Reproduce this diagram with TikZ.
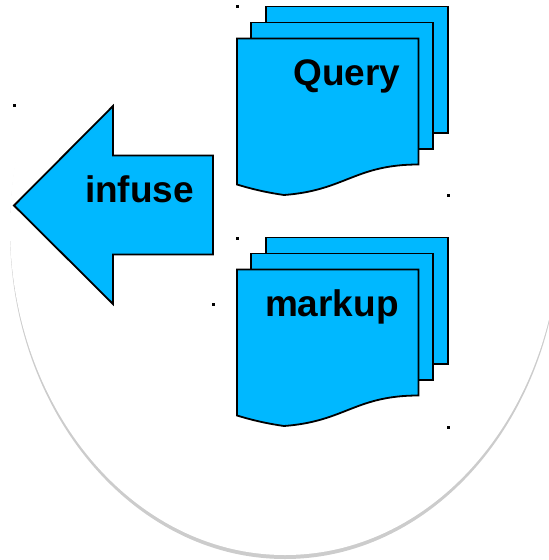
\documentclass[tikz,border=0pt]{standalone}
\usepackage{fontspec}
\setmainfont{Liberation Sans}
\definecolor{shapeblue}{HTML}{00B8FF}
\definecolor{shadowgray}{HTML}{CCCCCC}
\tikzset{
  shapeline/.style={draw=black,fill=shapeblue,line width=1.8pt,line join=miter},
  label/.style={anchor=base west,inner sep=0pt,outer sep=0pt,font=\fontsize{37}{37}\selectfont\bfseries,text=black},
  handle/.style={fill=black,draw=none,minimum size=3pt,inner sep=0pt,shape=rectangle}
}
\newcommand{\docstack}[1]{%
  \begin{scope}[yshift=-#1pt]
    \draw[shapeline] (266,6.5) -- (448,6.5) -- (448,133) -- (266,133) -- cycle;
    \draw[shapeline] (251,22.5) -- (433,22.5) -- (433,149) -- (251,149) -- cycle;
    \draw[shapeline] (237,38.5) -- (418.5,38.5) -- (418.5,164.5)
      .. controls (355,164.5) and (345,190.5) .. (284,195)
      .. controls (270,193) and (255,190) .. (237,184.5) -- cycle;
  \end{scope}}
\begin{document}
\begin{tikzpicture}[x=1pt,y=-1pt]
  \useasboundingbox (0,0) rectangle (549,560);
  \begin{scope}
    \clip (0,0) rectangle (549,560);
    \fill[shadowgray] (285,231) ellipse [x radius=275,y radius=328];
    \fill[white] (285,227) ellipse [x radius=275,y radius=328];
  \end{scope}
  \docstack{0}
  \docstack{231}
  \draw[shapeline] (14,205.5) -- (113,106) -- (113,155.5) -- (213,155.5) -- (213,254.5) -- (113,254.5) -- (113,304) -- cycle;
  \node[label] (query) at (293.5,85) {Query};
  \node[label] (markup) at (265,316.5) {markup};
  \node[label] (infuse) at (85,202.5) {infuse};
  \node[handle] (h1) at (237,6.5) {};
  \node[handle] (h2) at (448,195.5) {};
  \node[handle] (h3) at (237,238.5) {};
  \node[handle] (h4) at (448,427.5) {};
  \node[handle] (h5) at (14,105.5) {};
  \node[handle] (h6) at (213,304.5) {};
\end{tikzpicture}
\end{document}
